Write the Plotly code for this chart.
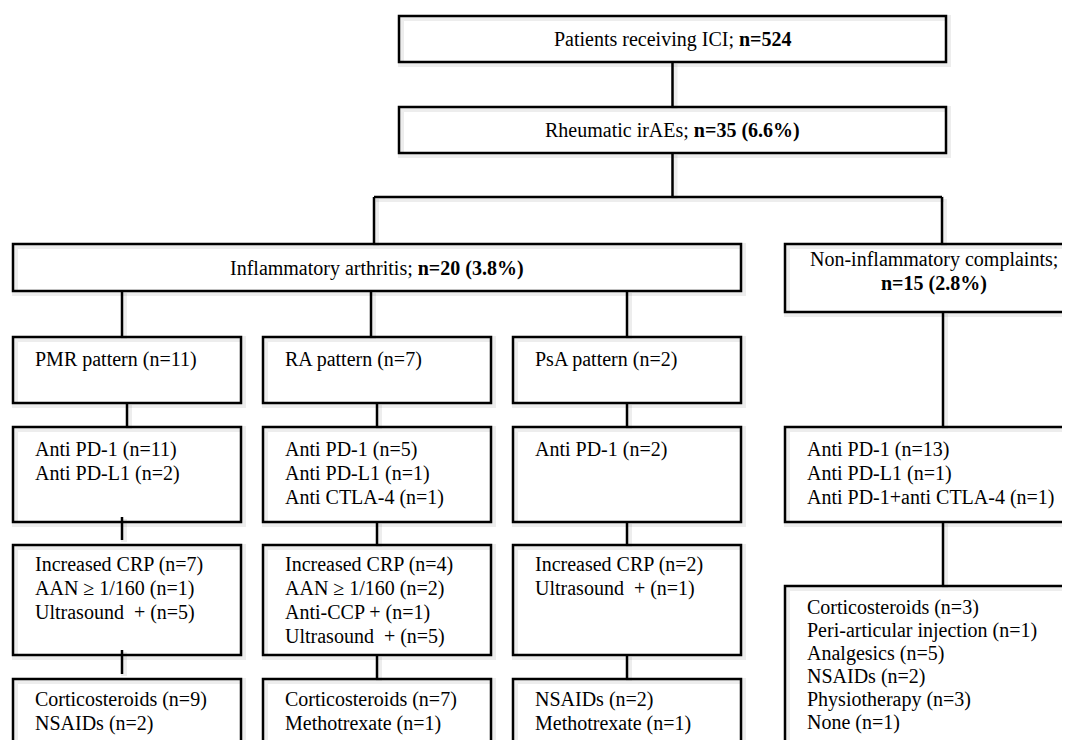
import plotly.graph_objects as go

# ---------------- data (texts and counts) ----------------
TOTAL_LABEL = "Patients receiving ICI; "
TOTAL_N = 524
RHEUM_LABEL = "Rheumatic irAEs; "
RHEUM_N, RHEUM_PCT = 35, 6.6
INFL_LABEL = "Inflammatory arthritis; "
INFL_N, INFL_PCT = 20, 3.8
NONINFL_LABEL = "Non-inflammatory complaints;"
NONINFL_N, NONINFL_PCT = 15, 2.8

PATTERNS = ["PMR pattern", "RA pattern", "PsA pattern"]
PATTERN_N = [11, 7, 2]

DRUGS_PMR = [("Anti PD-1", 11), ("Anti PD-L1", 2)]
DRUGS_RA = [("Anti PD-1", 5), ("Anti PD-L1", 1), ("Anti CTLA-4", 1)]
DRUGS_PSA = [("Anti PD-1", 2)]
DRUGS_NONINFL = [("Anti PD-1", 13), ("Anti PD-L1", 1), ("Anti PD-1+anti CTLA-4", 1)]

FINDINGS_PMR = [("Increased CRP", 7), ("AAN \u2265 1/160", 1), ("Ultrasound\u00a0 +", 5)]
FINDINGS_RA = [("Increased CRP", 4), ("AAN \u2265 1/160", 2), ("Anti-CCP +", 1), ("Ultrasound\u00a0 +", 5)]
FINDINGS_PSA = [("Increased CRP", 2), ("Ultrasound\u00a0 +", 1)]

TREAT_PMR = [("Corticosteroids", 9), ("NSAIDs", 2)]
TREAT_RA = [("Corticosteroids", 7), ("Methotrexate", 1)]
TREAT_PSA = [("NSAIDs", 2), ("Methotrexate", 1)]
TREAT_NONINFL = [("Corticosteroids", 3), ("Peri-articular injection", 1), ("Analgesics", 5),
                 ("NSAIDs", 2), ("Physiotherapy", 3), ("None", 1)]

# ---------------- layout geometry (page pixels) ----------------
W, H = 1070, 740
OFF = 8  # default page margin of the html body
FONT = dict(family="Liberation Serif, Times New Roman, serif", size=20, color="black")
LW = 2.5
LINE_H = 24
TEXT_DY = 22
PAD_X = 20

COLS = [(13, 241), (263, 491), (513, 741)]
NI_X = (785, 1083)
ROWS = [(337, 403), (427, 522), (545, 655), (679, 780)]
NI_ROWS = [(244, 312), (427, 522), (586, 780)]

shapes = []
annotations = []
SH = dict(color="rgba(0,0,0,0.07)", width=6)


def box(x0, x1, y0, y1):
    shapes.append(dict(type="rect", xref="x", yref="y", x0=x0 + 2, x1=x1 + 2, y0=y0 + 2, y1=y1 + 2,
                       line=SH, fillcolor="rgba(0,0,0,0)", layer="below"))
    shapes.append(dict(type="rect", xref="x", yref="y", x0=x0, x1=x1, y0=y0, y1=y1,
                       line=dict(color="black", width=LW), fillcolor="rgba(0,0,0,0)",
                       layer="above"))


def line(x0, y0, x1, y1):
    shapes.append(dict(type="line", xref="x", yref="y", x0=x0 + 2, x1=x1 + 2, y0=y0 + 2, y1=y1 + 2,
                       line=SH, layer="below"))
    shapes.append(dict(type="line", xref="x", yref="y", x0=x0, x1=x1, y0=y0, y1=y1,
                       line=dict(color="black", width=LW), layer="above"))


def text(x, y, s, anchor="left"):
    annotations.append(dict(x=x, y=y, xref="x", yref="y", text=s, showarrow=False,
                            xanchor=anchor, yanchor="middle", font=FONT))


def list_box(x0, x1, y0, y1, items, dy=TEXT_DY, lh=LINE_H):
    box(x0, x1, y0, y1)
    for i, (lab, n) in enumerate(items):
        text(x0 + PAD_X, y0 + dy + i * lh, f"{lab} (n={n})")


# top boxes
box(399, 946, 16, 62)
text(672.5, 39, f"{TOTAL_LABEL}<b>n={TOTAL_N}</b>", anchor="center")
box(399, 946, 107, 153)
text(672.5, 130, f"{RHEUM_LABEL}<b>n={RHEUM_N} ({RHEUM_PCT}%)</b>", anchor="center")
line(672.5, 62, 672.5, 107)
line(672.5, 153, 672.5, 197)
line(374, 197, 942, 197)
line(374, 197, 374, 244)
line(942, 197, 942, 244)

# inflammatory arthritis
box(13, 741, 244, 291)
text(377, 268, f"{INFL_LABEL}<b>n={INFL_N} ({INFL_PCT}%)</b>", anchor="center")

# non-inflammatory
box(NI_X[0], NI_X[1], NI_ROWS[0][0], NI_ROWS[0][1])
text(934, 259, NONINFL_LABEL, anchor="center")
text(934, 283, f"<b>n={NONINFL_N} ({NONINFL_PCT}%)</b>", anchor="center")

# pattern row
for (x0, x1), lab, n in zip(COLS, PATTERNS, PATTERN_N):
    box(x0, x1, ROWS[0][0], ROWS[0][1])
    text(x0 + PAD_X, ROWS[0][0] + TEXT_DY, f"{lab} (n={n})")

for (x0, x1), items in zip(COLS, [DRUGS_PMR, DRUGS_RA, DRUGS_PSA]):
    list_box(x0, x1, ROWS[1][0], ROWS[1][1], items)
for (x0, x1), items in zip(COLS, [FINDINGS_PMR, FINDINGS_RA, FINDINGS_PSA]):
    list_box(x0, x1, ROWS[2][0], ROWS[2][1], items, dy=19)
for (x0, x1), items in zip(COLS, [TREAT_PMR, TREAT_RA, TREAT_PSA]):
    list_box(x0, x1, ROWS[3][0], ROWS[3][1], items, dy=20)

list_box(NI_X[0], NI_X[1], NI_ROWS[1][0], NI_ROWS[1][1], DRUGS_NONINFL)
list_box(NI_X[0], NI_X[1], NI_ROWS[2][0], NI_ROWS[2][1], TREAT_NONINFL, dy=21, lh=23)

# connectors below inflammatory box
for x in (122, 371, 627):
    line(x, 291, x, ROWS[0][0])
# PMR column connectors
line(127, ROWS[0][1], 127, ROWS[1][0])
line(122, ROWS[1][1] - 5, 122, ROWS[2][0] - 5)
line(122, ROWS[2][1] - 5, 122, ROWS[3][0] - 5)
# RA and PsA column connectors
for x in (377, 627):
    line(x, ROWS[0][1], x, ROWS[1][0])
    line(x, ROWS[1][1], x, ROWS[2][0])
    line(x, ROWS[2][1], x, ROWS[3][0])
# non-inflammatory connectors
line(943, NI_ROWS[0][1], 943, NI_ROWS[1][0])
line(943, NI_ROWS[1][1], 943, NI_ROWS[2][0])

fig = go.Figure()
fig.add_trace(go.Scatter(x=[OFF, W], y=[OFF, H], mode="markers", marker=dict(opacity=0),
                         hoverinfo="skip", showlegend=False))
fig.update_layout(
    width=W - OFF, height=H - OFF,
    margin=dict(l=0, r=0, t=0, b=0),
    paper_bgcolor="white", plot_bgcolor="white",
    xaxis=dict(range=[OFF, W], visible=False, fixedrange=True),
    yaxis=dict(range=[H, OFF], visible=False, fixedrange=True),
    shapes=shapes, annotations=annotations,
    showlegend=False,
)
fig.write_html("out.html")
